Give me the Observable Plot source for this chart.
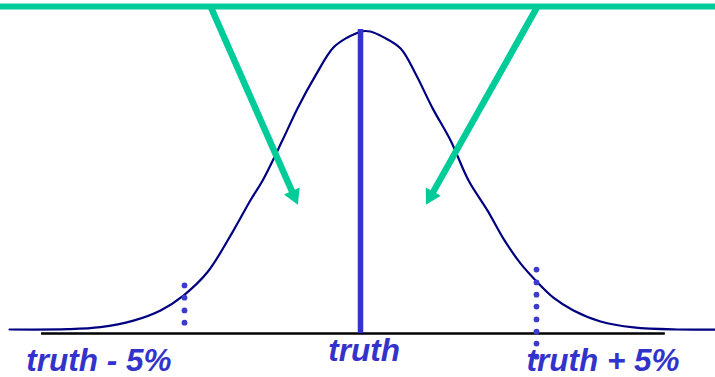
<!DOCTYPE html>
<html><head><meta charset="utf-8">
<script src="https://cdn.jsdelivr.net/npm/d3@7"></script>
<script src="https://cdn.jsdelivr.net/npm/@observablehq/plot@0.6"></script>
<style>body{margin:0;background:#fff} svg{display:block}</style>
</head><body><div id="chart"></div>
<script>
// x: deviation from truth (%), y: density as % of peak
const curveX = [-9.97, -8.32, -7.39, -6.45, -5.68, -5.03, -4.35, -3.61, -3.13, -2.78, -2.22, -1.79, -1.28, -0.77, -0.37, -0.06, 0.0, 0.28, 0.65, 1.14, 1.56, 2.05, 2.56, 3.07, 3.61, 4.06, 4.55, 5.03, 5.48, 6.05, 6.82, 7.76, 9.01, 10.09];
const curveY = [0.0, 0.1, 0.8, 3.0, 6.4, 11.4, 19.2, 33.2, 43.3, 50.0, 63.4, 74.2, 85.2, 94.6, 98.0, 99.7, 100, 100, 98.1, 94.3, 85.9, 74.2, 63.4, 50.0, 39.9, 30.5, 22.1, 15.8, 10.7, 6.4, 2.7, 0.7, 0.0, 0.0];

const truth = 0;
const lowerBound = -5;
const upperBound = 5;
const lowerDotsY = [14.8, 10.7, 6.4, 2.3];
const upperDotsY = [20.1, 15.8, 11.7, 7.7, 3.4, -0.7, -4.7, -9.1];

const axisExtent = [-9.06, 8.66];
const axisLevel = -1.34;
const truthTop = 100.7;

const bandLevel = 108.4;
const arrowTailX = [-4.26, 5.03];
const arrowTipX = [-1.78, 1.86];
const arrowTipY = [41.9, 41.9];

const labels = ["truth - 5%", "truth", "truth + 5%"];
const labelX = [-7.43, 0.1, 6.89];
const labelY = [-13.9, -10.7, -13.9];

const W = 715, H = 377;
const xDomain = [-10.227, 10.085];
const yDomain = [-16.1, 110.4];
const pxX = W / (xDomain[1] - xDomain[0]);
const pxY = H / (yDomain[1] - yDomain[0]);

const green = "#00cc99";
const blue = "#3333cc";
const headR = 6.4;
const tipOffset = 1.555 * headR;

const curve = curveX.map((x, i) => ({x, y: curveY[i]}));
const dots = [
  ...lowerDotsY.map(y => ({x: lowerBound, y})),
  ...upperDotsY.map(y => ({x: upperBound, y}))
];
const arrows = arrowTailX.map((x1, i) => {
  const y1 = bandLevel, x2 = arrowTipX[i], y2 = arrowTipY[i];
  const dxp = (x2 - x1) * pxX, dyp = -(y2 - y1) * pxY;
  const len = Math.hypot(dxp, dyp);
  const t = 1 - tipOffset / len;
  return {
    x1, y1,
    cx: x1 + (x2 - x1) * t,
    cy: y1 + (y2 - y1) * t,
    angle: Math.atan2(dxp, -dyp) * 180 / Math.PI
  };
});
const labelData = labels.map((text, i) => ({text, x: labelX[i], y: labelY[i]}));

const chart = Plot.plot({
  width: W, height: H, margin: 0,
  x: {domain: xDomain, axis: null},
  y: {domain: yDomain, axis: null},
  marks: [
    Plot.line(curve, {x: "x", y: "y", stroke: "#000080", strokeWidth: 2.2, curve: "catmull-rom"}),
    Plot.ruleY([axisLevel], {x1: axisExtent[0], x2: axisExtent[1], stroke: "#000", strokeWidth: 2.5}),
    Plot.ruleX([truth], {y1: axisLevel, y2: truthTop, stroke: blue, strokeWidth: 5.5}),
    Plot.dot(dots, {x: "x", y: "y", r: 2.9, fill: "#3b3bcf", stroke: "none"}),
    Plot.ruleY([bandLevel], {stroke: green, strokeWidth: 6}),
    Plot.link(arrows, {x1: "x1", y1: "y1", x2: "cx", y2: "cy", stroke: green, strokeWidth: 6.5}),
    Plot.dot(arrows, {x: "cx", y: "cy", r: headR, symbol: "triangle", fill: green, stroke: "none", rotate: "angle"}),
    Plot.text(labelData, {x: "x", y: "y", text: "text", textAnchor: "middle", lineAnchor: "bottom",
      fill: blue, fontSize: 31.5, fontWeight: "bold", fontStyle: "italic",
      fontFamily: "'Liberation Sans', Arial, sans-serif"})
  ]
});
document.getElementById("chart").append(chart);
</script>
</body></html>
